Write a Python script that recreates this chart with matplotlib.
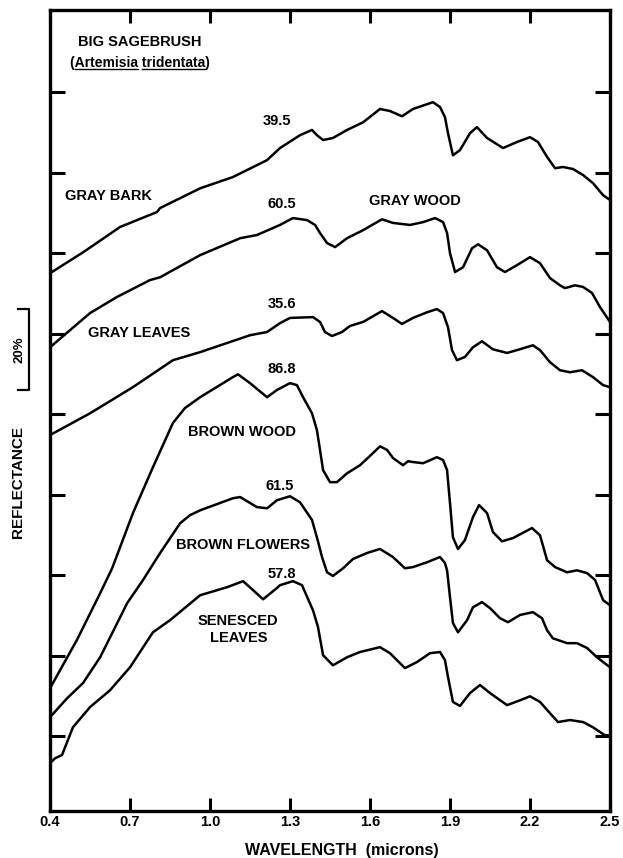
import matplotlib
matplotlib.use("Agg")
import matplotlib.pyplot as plt
from matplotlib.lines import Line2D

plt.rcParams['font.family'] = ['Liberation Sans', 'DejaVu Sans']
plt.rcParams['font.weight'] = 'bold'

# wavelength (microns) / relative reflectance (%),
# each curve offset vertically as in the original figure
bark_w = [0.4, 0.524, 0.663, 0.801, 0.813, 0.963, 1.086, 1.214, 1.2625, 1.3375, 1.3825, 1.401,
          1.424, 1.461, 1.514, 1.574, 1.6375, 1.675, 1.72, 1.761, 1.814, 1.836, 1.8625, 1.881,
          1.8925, 1.911, 1.9375, 1.975, 2.001, 2.039, 2.099, 2.151, 2.20, 2.23, 2.264, 2.294,
          2.324, 2.361, 2.399, 2.436, 2.474, 2.5]
bark_r = [115.0, 120.2, 126.5, 130.2, 131.2, 136.1, 138.9, 143.1, 146.1, 149.3, 150.6, 149.3,
          148.1, 148.6, 150.6, 152.5, 155.8, 155.3, 154.0, 155.8, 157.0, 157.5, 156.3, 153.8,
          149.8, 144.3, 145.6, 149.8, 151.3, 148.6, 146.1, 147.6, 148.8, 147.6, 143.9, 141.1,
          141.4, 140.9, 139.4, 137.4, 134.4, 133.2]

gwood_w = [0.4, 0.55, 0.651, 0.775, 0.813, 0.963, 1.113, 1.176, 1.2625, 1.311, 1.364, 1.394,
           1.4125, 1.439, 1.469, 1.514, 1.574, 1.645, 1.686, 1.75, 1.799, 1.844, 1.874, 1.889,
           1.90, 1.919, 1.949, 1.9825, 2.005, 2.039, 2.076, 2.106, 2.151, 2.20, 2.2375, 2.275,
           2.3125, 2.331, 2.369, 2.399, 2.4325, 2.4625, 2.5]
gwood_r = [96.6, 105.1, 109.1, 113.3, 114.0, 119.5, 123.7, 124.5, 127.0, 128.7, 128.2, 127.0,
           125.0, 122.5, 121.5, 123.7, 125.7, 128.4, 127.5, 127.0, 127.7, 128.7, 127.7, 125.0,
           120.0, 115.3, 116.5, 121.2, 122.2, 120.7, 116.5, 115.3, 117.0, 119.0, 117.5, 113.8,
           112.0, 111.3, 112.0, 111.6, 110.1, 106.6, 102.9]

gleaf_w = [0.4, 0.55, 0.711, 0.861, 0.963, 1.15, 1.214, 1.2625, 1.30, 1.386, 1.4125, 1.431,
           1.4575, 1.495, 1.525, 1.574, 1.645, 1.686, 1.72, 1.761, 1.814, 1.851, 1.874, 1.8925,
           1.9075, 1.926, 1.956, 1.986, 2.02, 2.061, 2.114, 2.151, 2.211, 2.2375, 2.275, 2.3125,
           2.35, 2.395, 2.436, 2.474, 2.5]
gleaf_r = [74.8, 80.2, 86.7, 93.4, 95.4, 99.6, 100.4, 102.6, 103.9, 104.1, 102.9, 100.4,
           99.4, 100.4, 101.9, 102.9, 105.6, 103.9, 102.4, 103.9, 105.3, 106.1, 105.1, 101.6,
           95.9, 93.4, 94.2, 96.6, 98.1, 96.1, 95.2, 95.9, 97.1, 95.9, 92.9, 90.9,
           90.4, 90.9, 89.2, 87.2, 86.7]

bwood_w = [0.4, 0.501, 0.588, 0.633, 0.711, 0.786, 0.861, 0.906, 0.963, 1.086, 1.105, 1.15, 1.214,
           1.251, 1.30, 1.326, 1.349, 1.3825, 1.401, 1.4125, 1.424, 1.45, 1.476, 1.514, 1.5625,
           1.611, 1.6375, 1.664, 1.686, 1.724, 1.7425, 1.761, 1.799, 1.851, 1.874, 1.889, 1.90,
           1.911, 1.93, 1.956, 1.986, 2.009, 2.039, 2.061, 2.095, 2.136, 2.2075, 2.2375, 2.264,
           2.294, 2.339, 2.376, 2.414, 2.444, 2.474, 2.5]
bwood_r = [11.9, 23.9, 35.5, 41.7, 55.4, 66.8, 77.8, 81.5, 84.2, 89.2, 89.9, 87.7, 84.2,
           86.0, 87.7, 87.2, 84.2, 80.2, 76.0, 71.1, 66.1, 63.1, 63.1, 65.3, 67.3,
           70.3, 72.0, 71.1, 69.1, 67.3, 68.3, 68.1, 67.8, 69.3, 68.6, 66.1, 57.9,
           49.4, 46.5, 48.7, 54.4, 57.4, 55.4, 50.7, 48.4, 49.2, 51.7, 49.9, 43.7,
           42.0, 40.7, 41.2, 40.5, 38.8, 33.8, 32.5]

flow_w = [0.4, 0.464, 0.524, 0.588, 0.689, 0.749, 0.813, 0.888, 0.925, 0.963, 1.086, 1.113, 1.176,
          1.214, 1.251, 1.30, 1.3375, 1.3825, 1.405, 1.42, 1.439, 1.461, 1.499, 1.536, 1.589,
          1.6375, 1.686, 1.731, 1.761, 1.814, 1.8625, 1.881, 1.889, 1.90, 1.911, 1.93, 1.964,
          1.986, 2.02, 2.05, 2.0875, 2.1175, 2.1625, 2.211, 2.245, 2.264, 2.286, 2.339, 2.376,
          2.414, 2.451, 2.5]
flow_r = [4.7, 9.4, 13.2, 19.6, 33.0, 38.8, 45.5, 52.9, 54.9, 56.1, 59.1, 59.4, 56.9,
          56.6, 58.6, 59.6, 58.1, 53.7, 48.4, 44.5, 40.7, 39.8, 41.7, 44.0, 45.5,
          46.5, 44.5, 41.7, 42.0, 43.2, 44.5, 43.0, 41.2, 34.5, 28.1, 25.8, 28.8,
          32.0, 33.3, 31.8, 29.3, 28.3, 30.1, 30.8, 29.3, 26.3, 24.3, 23.1, 23.1,
          21.9, 19.6, 17.1]

sen_w = [0.4, 0.419, 0.445, 0.486, 0.55, 0.625, 0.70, 0.786, 0.85, 0.963, 1.064, 1.124,
         1.161, 1.199, 1.251, 1.2625, 1.311, 1.345, 1.386, 1.405, 1.424, 1.461, 1.514, 1.5625,
         1.6375, 1.675, 1.731, 1.776, 1.825, 1.8625, 1.881, 1.8925, 1.911, 1.9375, 1.975, 2.0125,
         2.05, 2.114, 2.1625, 2.20, 2.2375, 2.275, 2.305, 2.35, 2.399, 2.436, 2.481, 2.5]
sen_r = [-6.7, -5.5, -4.7, 2.2, 7.2, 11.4, 17.1, 25.8, 28.8, 35.0, 37.0, 38.5,
         36.3, 34.0, 36.8, 37.5, 38.5, 37.5, 31.3, 27.1, 20.1, 17.6, 19.6, 20.9,
         22.1, 20.6, 16.9, 18.4, 20.6, 20.9, 18.9, 14.7, 8.5, 7.5, 10.7, 12.7,
         10.7, 7.7, 8.9, 9.9, 8.5, 5.7, 3.5, 4.0, 3.5, 2.2, 0.2, 0.2]

xticks = [0.4, 0.7, 1.0, 1.3, 1.6, 1.9, 2.2, 2.5]
xtick_labels = ['0.4', '0.7', '1.0', '1.3', '1.6', '1.9', '2.2', '2.5']
yticks = [0, 20, 40, 60, 80, 100, 120, 140, 160]

# curve names and peak values (label text, x, y)
labels = [
    ('39.5', 1.251, 152.8), ('GRAY BARK', 0.621, 134.2),
    ('60.5', 1.27, 132.2), ('GRAY WOOD', 1.769, 132.9),
    ('35.6', 1.27, 107.3), ('GRAY LEAVES', 0.734, 100.1),
    ('86.8', 1.27, 91.2), ('BROWN WOOD', 1.12, 75.5),
    ('61.5', 1.2625, 62.1), ('BROWN FLOWERS', 1.124, 47.5),
    ('57.8', 1.27, 40.2), ('SENESCED', 1.105, 28.6), ('LEAVES', 1.109, 24.3),
]

fig = plt.figure(figsize=(6.23, 8.58), dpi=100)
ax = fig.add_axes([50 / 623, 1 - 811 / 858, 560 / 623, 801 / 858])

for w, r in [(bark_w, bark_r), (gwood_w, gwood_r), (gleaf_w, gleaf_r),
             (bwood_w, bwood_r), (flow_w, flow_r), (sen_w, sen_r)]:
    ax.plot(w, r, color='black', lw=1.8, solid_joinstyle='round', solid_capstyle='round')

ax.set_xlim(0.4, 2.5)
ax.set_ylim(-18.6, 180.4)
ax.set_xticks(xticks)
ax.set_xticklabels(xtick_labels, fontsize=10.5, fontweight='bold')
ax.set_yticks(yticks)
ax.set_yticklabels([])
ax.tick_params(axis='y', direction='in', left=True, right=True, length=11, width=2.2)
ax.tick_params(axis='x', direction='in', top=True, bottom=True, length=9.5, width=2.2, pad=3)
for s in ax.spines.values():
    s.set_linewidth(2.4)

for txt, x, y in labels:
    ax.text(x, y, txt, ha='center', va='center', fontsize=10.5, fontweight='bold')

# title block
ax.text(0.505, 172.4, 'BIG SAGEBRUSH', ha='left', va='center', fontsize=10.5, fontweight='bold')
sp_x, sp_y = 0.475, 167.2
species = ax.text(sp_x, sp_y, '(Artemisia tridentata)', ha='left', va='center', fontsize=10)

# 20% scale bar
ax.plot([0.28, 0.321, 0.321, 0.28], [106, 106, 86, 86], color='black', lw=1.6, clip_on=False)
ax.text(0.2875, 95.9, '20%', rotation=90, ha='center', va='center', fontsize=9.5, fontweight='bold')
ax.text(0.28, 63.1, 'REFLECTANCE', rotation=90, ha='center', va='center', fontsize=11, fontweight='bold')

fig.text(342 / 623, 7 / 858, 'WAVELENGTH  (microns)', ha='center', va='center',
         fontsize=11.5, fontweight='bold')

# underline the genus and species names
fig.canvas.draw()
renderer = fig.canvas.get_renderer()
box = species.get_window_extent(renderer)


def prefix_width(s):
    t = ax.text(sp_x, sp_y, s, ha='left', va='center', fontsize=10)
    w = t.get_window_extent(renderer).width
    t.remove()
    return w


uy = box.y0 + 1
for a, b in [('(', '(Artemisia'), ('(Artemisia ', '(Artemisia tridentata')]:
    x0 = box.x0 + prefix_width(a)
    x1 = box.x0 + prefix_width(b)
    pts = fig.transFigure.inverted().transform([(x0, uy), (x1, uy)])
    fig.add_artist(Line2D(pts[:, 0], pts[:, 1], color='black', lw=1.0))

fig.savefig('out.png', dpi=100)
